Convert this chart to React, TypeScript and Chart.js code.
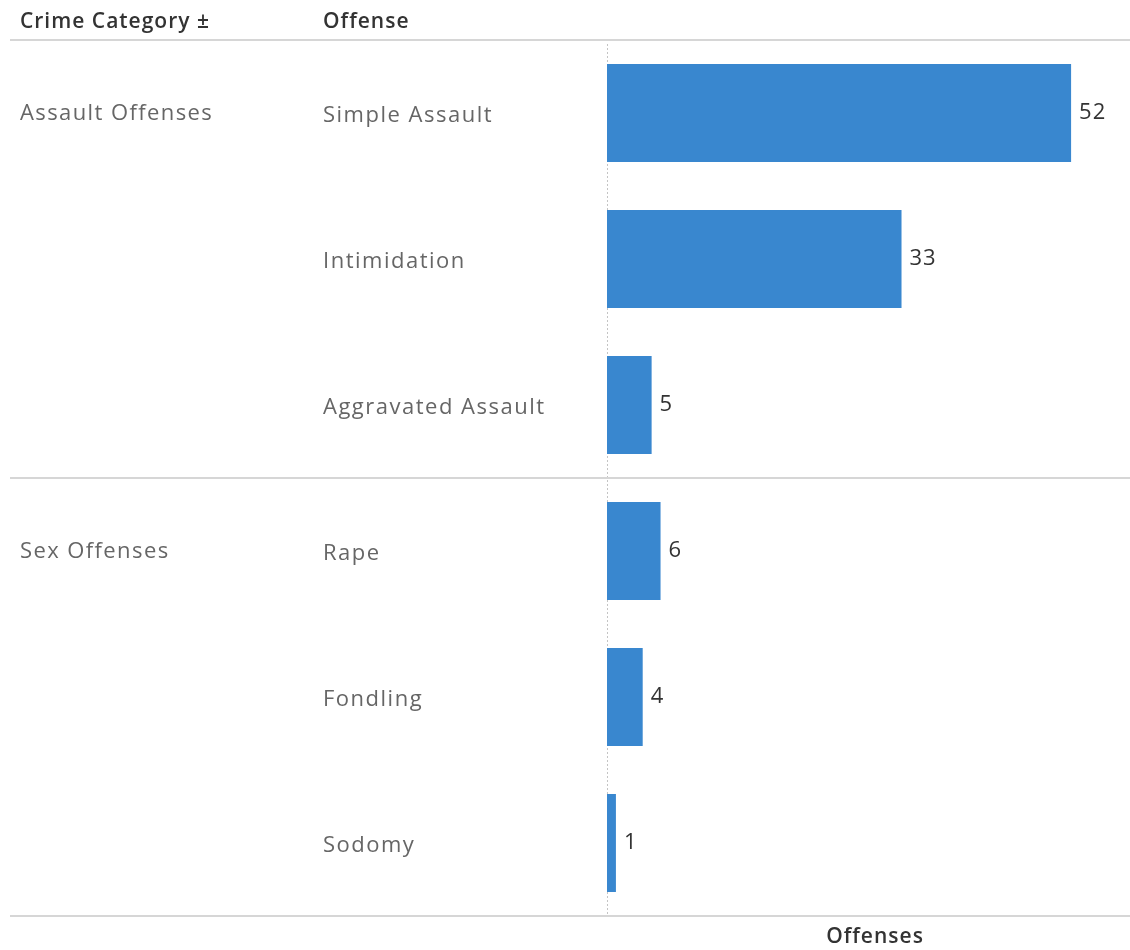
import React, { useEffect, useRef } from "react";
import { Chart, registerables } from "chart.js";

Chart.register(...registerables);

// ---- data ----
const categories = ["Assault Offenses", "Sex Offenses"];
const offenses = [
  "Simple Assault",
  "Intimidation",
  "Aggravated Assault",
  "Rape",
  "Fondling",
  "Sodomy",
];
const offenseCategory = [
  "Assault Offenses",
  "Assault Offenses",
  "Assault Offenses",
  "Sex Offenses",
  "Sex Offenses",
  "Sex Offenses",
];
const counts = [52, 33, 5, 6, 4, 1];
const headerLabels = ["Crime Category \u00b1", "Offense"];
const axisTitle = "Offenses";
const xMax = 58.6;

const BAR_COLOR = "rgb(57,135,207)";
const BODY_FONT = '400 22px "Open Sans", sans-serif';
const HEAD_FONT = '600 21px "Open Sans", sans-serif';
const VALUE_FONT = '400 22px "Open Sans", sans-serif';

const tablePlugin = {
  id: "tableLayout",
  beforeDatasetsDraw(chart: any) {
    const { ctx, chartArea, scales } = chart;
    const x0 = Math.round(scales.x.getPixelForValue(0)) + 0.5;
    ctx.save();
    ctx.strokeStyle = "#c4c4c4";
    ctx.lineWidth = 1;
    ctx.setLineDash([2, 2]);
    ctx.beginPath();
    ctx.moveTo(x0, chartArea.top + 4);
    ctx.lineTo(x0, chartArea.bottom);
    ctx.stroke();
    ctx.restore();
  },
  afterDraw(chart: any) {
    const { ctx, chartArea, scales, width } = chart;
    const ys = scales.y;
    const xs = scales.x;
    const rowH = ys.getPixelForValue(1) - ys.getPixelForValue(0);

    ctx.save();
    // separator lines
    ctx.strokeStyle = "#d6d6d6";
    ctx.lineWidth = 2;
    const lines: number[] = [chartArea.top, chartArea.bottom];
    for (let i = 1; i < offenses.length; i++) {
      if (offenseCategory[i] !== offenseCategory[i - 1]) {
        lines.push(Math.round(ys.getPixelForValue(i) - rowH / 2));
      }
    }
    lines.forEach((ly) => {
      ctx.beginPath();
      ctx.moveTo(10, ly);
      ctx.lineTo(width, ly);
      ctx.stroke();
    });

    // header
    ctx.fillStyle = "#333333";
    ctx.font = HEAD_FONT;
    (ctx as any).letterSpacing = "1px";
    ctx.textBaseline = "middle";
    ctx.textAlign = "left";
    ctx.fillText(headerLabels[0], 20, 22);
    ctx.fillText(headerLabels[1], 323, 22);

    // category labels
    ctx.font = BODY_FONT;
    ctx.fillStyle = "#666666";
    (ctx as any).letterSpacing = "1.4px";
    categories.forEach((c) => {
      const idx = offenseCategory.indexOf(c);
      ctx.fillText(c, 20, ys.getPixelForValue(idx) + 1);
    });

    // offense labels
    (ctx as any).letterSpacing = "1.5px";
    offenses.forEach((o, i) => {
      ctx.fillText(o, 323, ys.getPixelForValue(i) + 3);
    });

    // value labels
    ctx.font = VALUE_FONT;
    ctx.fillStyle = "#333333";
    (ctx as any).letterSpacing = "1px";
    counts.forEach((v, i) => {
      ctx.fillText(String(v), xs.getPixelForValue(v) + 8, ys.getPixelForValue(i));
    });

    // axis title
    ctx.font = HEAD_FONT;
    ctx.textAlign = "center";
    (ctx as any).letterSpacing = "1px";
    ctx.fillText(axisTitle, 875, 937);
    ctx.restore();
  },
};

export default function App() {
  const ref = useRef<HTMLCanvasElement>(null);

  useEffect(() => {
    if (!ref.current) return;
    const chart = new Chart(ref.current, {
      type: "bar",
      data: {
        labels: offenses,
        datasets: [
          {
            data: counts,
            backgroundColor: BAR_COLOR,
            borderWidth: 0,
            barPercentage: 0.671,
            categoryPercentage: 1,
          },
        ],
      },
      options: {
        indexAxis: "y",
        animation: false,
        responsive: false,
        layout: { padding: { left: 607, right: 0, top: 40, bottom: 34 } },
        plugins: {
          legend: { display: false },
          tooltip: { enabled: false },
        },
        scales: {
          x: { display: false, min: 0, max: xMax },
          y: { display: false },
        },
      },
      plugins: [tablePlugin],
    });
    return () => chart.destroy();
  }, []);

  return (
    <div
      style={{
        position: "fixed",
        left: 0,
        top: 0,
        width: 1130,
        height: 950,
        background: "#ffffff",
      }}
    >
      <canvas ref={ref} width={1130} height={950} />
    </div>
  );
}
